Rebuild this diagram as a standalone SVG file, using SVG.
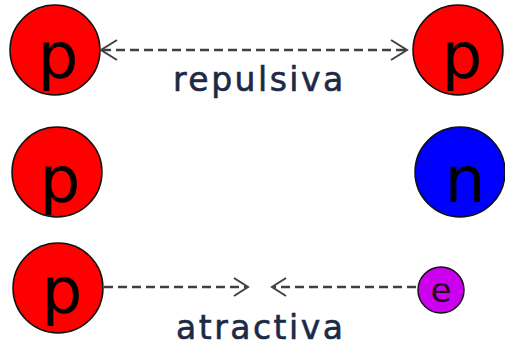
<svg xmlns="http://www.w3.org/2000/svg" width="505" height="346" viewBox="0 0 505 346">
<style>
.p{fill:#ff0000;stroke:#111;stroke-width:1.5}
.n{fill:#0000ff;stroke:#111;stroke-width:1.5}
.e{fill:#cc00ee;stroke:#111;stroke-width:1.5}
.big{font-family:"DejaVu Sans",sans-serif;font-size:64px;fill:#000;text-anchor:middle}
.small{font-family:"DejaVu Sans",sans-serif;font-size:34px;fill:#220022;text-anchor:middle}
.lbl{font-family:"DejaVu Sans",sans-serif;font-size:33px;fill:#1c2a44;stroke:#1c2a44;stroke-width:0.6;letter-spacing:2.5px}
.c{fill:none;stroke:#404040;stroke-width:2.4;stroke-dasharray:9 5}
.h{fill:none;stroke:#404040;stroke-width:2}
</style>
<g id="p1"><circle class="p" cx="55" cy="50" r="45"/><text class="big" x="58" y="78">p</text></g>
<g id="p2"><circle class="p" cx="458" cy="50" r="45"/><text class="big" x="462" y="78">p</text></g>
<g id="p3"><circle class="p" cx="57" cy="172" r="45"/><text class="big" x="60" y="202">p</text></g>
<g id="n1"><circle class="n" cx="460" cy="172" r="45"/><text class="big" x="465" y="202">n</text></g>
<g id="p4"><circle class="p" cx="58" cy="288" r="45"/><text class="big" x="62" y="313">p</text></g>
<g id="e1"><circle class="e" cx="441" cy="290" r="23"/><text class="small" x="441" y="302">e</text></g>
<g id="connectors">
<line class="c" x1="102" y1="50" x2="406" y2="50"/>
<path class="h" d="M117,40 L101,50 L117,60"/>
<path class="h" d="M391,40 L407,50 L391,60"/>
<line class="c" x1="104" y1="287" x2="246" y2="287"/>
<path class="h" d="M234,278 L248,287 L234,296"/>
<line class="c" x1="416" y1="287" x2="274" y2="287"/>
<path class="h" d="M286,278 L272,287 L286,296"/>
<text class="lbl" x="173" y="91">repulsiva</text>
<text class="lbl" x="176" y="339">atractiva</text>
</g>
</svg>
